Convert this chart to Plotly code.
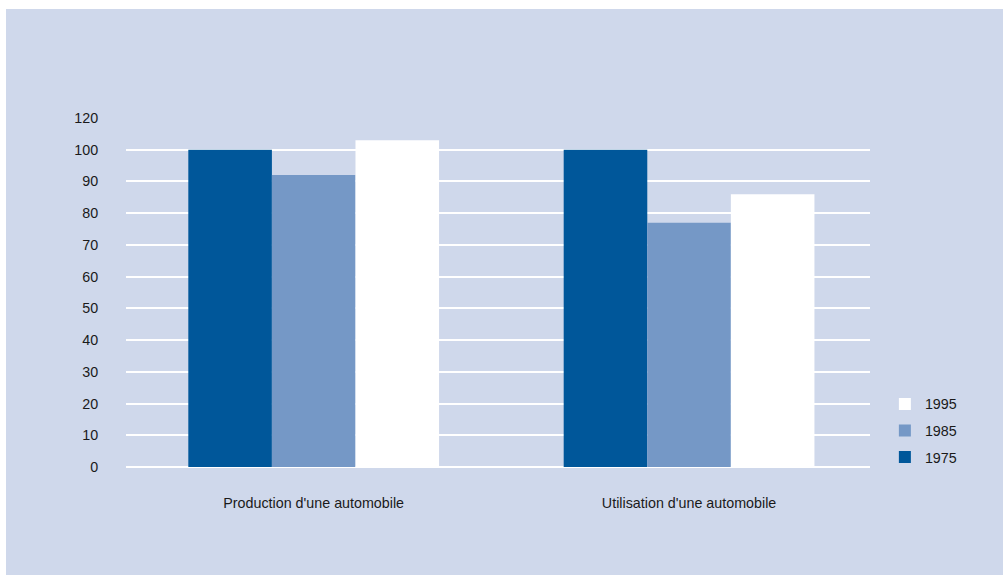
import plotly.graph_objects as go

categories = ["Production d'une automobile", "Utilisation d'une automobile"]
years = ["1975", "1985", "1995"]
values_1975 = [100, 100]
values_1985 = [92, 77]
values_1995 = [103, 86]
tick_vals = [0, 10, 20, 30, 40, 50, 60, 70, 80, 90, 100, 110]
tick_text = ["0", "10", "20", "30", "40", "50", "60", "70", "80", "90", "100", "120"]

BG = "#CFD8EB"
colors = {"1975": "#00579A", "1985": "#7598C6", "1995": "#FFFFFF"}
series = {"1975": values_1975, "1985": values_1985, "1995": values_1995}
ranks = {"1975": 3, "1985": 2, "1995": 1}

fig = go.Figure()
for y in years:
    fig.add_trace(go.Bar(
        name=y, x=categories, y=series[y],
        marker=dict(color=colors[y], line=dict(width=0)),
        legendgroup=y, legendrank=ranks[y],
    ))

FONT = dict(family="Liberation Sans, Arial, sans-serif", size=14.3, color="#1a1a1a")

fig.update_layout(
    width=1003, height=575,
    margin=dict(l=126, r=133, t=118, b=108, pad=0),
    paper_bgcolor=BG, plot_bgcolor=BG,
    font=FONT,
    barmode="group", bargap=0.332, bargroupgap=0,
    showlegend=True,
    legend=dict(
        traceorder="grouped", tracegroupgap=5,
        x=1.02, xanchor="left", y=0.226, yanchor="top",
        bgcolor="rgba(0,0,0,0)", font=FONT,
    ),
    xaxis=dict(
        range=[-0.5, 1.482], showgrid=False, zeroline=False, showline=False,
        ticks="outside", ticklen=23, tickcolor="rgba(0,0,0,0)",
    ),
    yaxis=dict(
        range=[0, 110], tickvals=tick_vals, ticktext=tick_text,
        showgrid=True, gridcolor="white", gridwidth=2,
        zeroline=True, zerolinecolor="white", zerolinewidth=2,
        showline=False, ticks="outside", ticklen=24, tickcolor="rgba(0,0,0,0)",
    ),
    shapes=[
        dict(type="rect", xref="paper", yref="paper",
             x0=-126/744, x1=(6-126)/744, y0=(467-575)/349, y1=(467-0)/349,
             fillcolor="white", line=dict(width=0), layer="above"),
        dict(type="rect", xref="paper", yref="paper",
             x0=-126/744, x1=(1003-126)/744, y0=(467-9)/349, y1=(467-0)/349,
             fillcolor="white", line=dict(width=0), layer="above"),
    ],
)

fig.write_html("out.html")
